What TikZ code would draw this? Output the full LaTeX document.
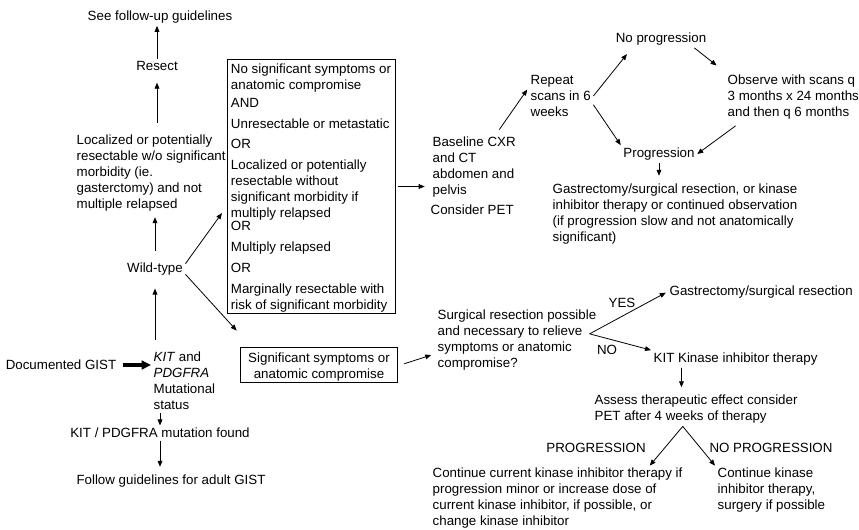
\documentclass[tikz,border=0pt]{standalone}
\usepackage{fontspec}
\setmainfont{Liberation Sans}
\usetikzlibrary{arrows.meta}

\begin{document}
\begin{tikzpicture}[x=0.75pt,y=-0.75pt,
  txt/.style={inner sep=0pt,outer sep=2pt,align=left,font=\fontsize{10}{12}\selectfont},
  boxed/.style={txt,draw,line width=0.6pt,inner xsep=3pt,inner ysep=1pt},
  arr/.style={line width=0.6pt,-{Triangle[length=4.5pt,width=3.6pt]}},
  fat/.style={line width=3pt,-{Triangle[length=7pt,width=6.5pt]}}]

\useasboundingbox (0,0) rectangle (859,529);

% colonna sinistra
\node[txt] (guide) at (160,17) {See follow-up guidelines};
\node[txt] (resect) at (157,66) {Resect};
\node[txt,anchor=west] (local) at (74,173) {Localized or potentially\\resectable w/o significant\\morbidity (ie.\\gasterctomy) and not\\multiple relapsed};
\node[txt] (wild) at (155,269) {Wild-type};
\node[txt] (gist) at (61,365) {Documented GIST};
\node[txt,anchor=west] (mut) at (151,381) {\textit{KIT} and\\\textit{PDGFRA}\\Mutational\\status};
\node[txt] (found) at (160,433) {KIT / PDGFRA mutation found};
\node[txt] (adult) at (171,481) {Follow guidelines for adult GIST};

\draw[arr] (resect.north) -- (resect.north |- guide.south);
\draw[arr,shorten <=7pt,shorten >=7pt] (resect.south |- local.north) -- (resect.south);
\draw[arr,shorten <=7pt,shorten >=2.5pt] (wild.north) -- (wild.north |- local.south);
\draw[arr,shorten <=7pt,shorten >=8pt] (wild.south |- mut.north) -- (wild.south);
\draw[fat,shorten <=3pt] (gist.east) -- (gist.east -| mut.west);
\draw[arr] (found.north |- mut.south) -- (found.north);
\draw[arr,shorten >=4pt] (found.south) -- (found.south |- adult.north);

% riquadri centrali
\node[boxed] (opts) at (311,186.5) {\rule{0pt}{10pt}No significant symptoms or\\
  anatomic compromise\\[1.5pt]
  AND\\[3.75pt]
  Unresectable or metastatic\\[3pt]
  OR\\[3.75pt]
  Localized or potentially\\
  resectable without\\
  significant morbidity if\\
  multiply relapsed\\[-2.25pt]
  OR\\[3.75pt]
  Multiply relapsed\\[3.75pt]
  OR\\[3.75pt]
  Marginally resectable with\\
  risk of significant morbidity};
\node[boxed,align=center,inner xsep=6pt] (sig) at (319,365) {\rule{0pt}{10pt}Significant symptoms or\\anatomic compromise};

\draw[arr,shorten >=3pt] ([yshift=4pt]wild.east) -- ([yshift=-17.5pt]opts.west);
\draw[arr,shorten >=1pt] ([yshift=-4pt]wild.east) -- ([yshift=10pt]sig.north west);

% ramo superiore
\node[txt,anchor=west] (base) at (430,175.5) {Baseline CXR\\and CT\\abdomen and\\pelvis\\[3pt]\hspace*{-1.5pt}Consider PET};
\node[txt,anchor=west] (rep) at (528,96) {Repeat\\scans in 6\\weeks};
\node[txt] (noprog) at (661,39) {No progression};
\node[txt,anchor=west] (obs) at (725,97) {Observe with scans q\\3 months x 24 months\\and then q 6 months};
\node[txt] (prog) at (659,154) {Progression};
\node[txt,anchor=west] (gas) at (550,214) {Gastrectomy/surgical resection, or kinase\\inhibitor therapy or continued observation\\(if progression slow and not anatomically\\significant)};

\draw[arr,shorten >=4pt] (opts.east) -- (opts.east -| base.west);
\draw[arr,shorten <=4pt,shorten >=1pt] (base.62) -- (rep.167);
\draw[arr,shorten >=6pt] (rep.east) -- (noprog.197);
\draw[arr,shorten >=8pt] ([xshift=25pt]noprog.south) -- (obs.north west);
\draw[arr,shorten <=5pt] ([xshift=12pt]obs.south west) -- (prog.east);
\draw[arr] (rep.-15) -- (prog.north west);
\draw[arr,shorten >=4pt] (prog.south) -- (prog.south |- gas.north);

% ramo inferiore
\node[txt,anchor=west] (surg) at (435,340.5) {Surgical resection possible\\and necessary to relieve\\symptoms or anatomic\\compromise?};
\coordinate (fork) at ([xshift=-7pt,yshift=5pt]surg.east);
\node[txt,anchor=west] (gsr) at (667,292) {Gastrectomy/surgical resection};
\node[txt,anchor=west] (kit) at (651,359) {KIT Kinase inhibitor therapy};
\node[txt] (yes) at (622,303) {YES};
\node[txt] (no) at (607,350) {NO};
\node[txt,anchor=west] (assess) at (592,409.5) {Assess therapeutic effect consider\\PET after 4 weeks of therapy};
\node[txt] (plab) at (596,448) {PROGRESSION};
\node[txt] (nplab) at (771,448) {NO PROGRESSION};
\node[txt,anchor=west] (cont1) at (430,498.5) {Continue current kinase inhibitor therapy if\\progression minor or increase dose of\\current kinase inhibitor, if possible, or\\change kinase inhibitor};
\node[txt,anchor=west] (cont2) at (715,490.5) {Continue kinase\\inhibitor therapy,\\surgery if possible};

\draw[arr,shorten <=3pt,shorten >=3pt] (sig.east) -- ([yshift=-10pt]surg.west);
\draw[arr,shorten >=1pt] (fork) -- (gsr.west);
\draw[arr] (fork) -- (kit.north west);
\draw[arr,shorten >=4pt] ([xshift=-40.5pt]kit.south) -- ([xshift=-11pt]assess.north);
\draw[arr] ([xshift=-10pt]assess.south) -- ([xshift=-26.5pt]cont1.north east);
\draw[arr] ([xshift=-10pt]assess.south) -- (cont2.north west);

\end{tikzpicture}
\end{document}
